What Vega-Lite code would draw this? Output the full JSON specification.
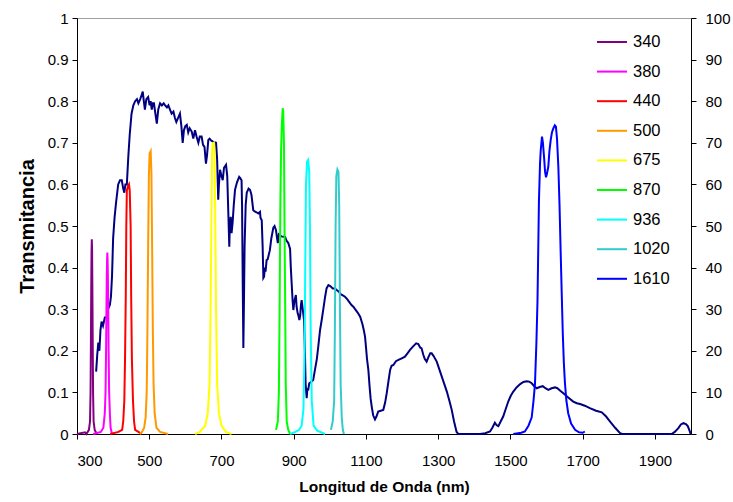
{
  "$schema": "https://vega.github.io/schema/vega-lite/v6.json",
  "width": 614,
  "height": 416,
  "autosize": "none",
  "padding": {"left": 77, "top": 18, "right": 42, "bottom": 68},
  "config": {
    "view": {"stroke": "#a0a0a0", "strokeWidth": 1},
    "axis": {
      "grid": false,
      "domainColor": "#000000",
      "tickColor": "#000000",
      "labelColor": "#000000",
      "titleColor": "#000000",
      "labelFont": "Liberation Sans",
      "titleFont": "Liberation Sans",
      "labelFontSize": 15,
      "titleFontSize": 15.5,
      "titleFontWeight": "bold",
      "tickSize": 5
    }
  },
  "datasets": {
    "spectrum": [
      {"nm":353,"pct":15},{"nm":356,"pct":19},{"nm":359,"pct":22},{"nm":362,"pct":20},{"nm":365,"pct":25},{"nm":368,"pct":27},{"nm":372,"pct":26},{"nm":377,"pct":28},{"nm":382,"pct":28},{"nm":386,"pct":30},{"nm":391,"pct":31},{"nm":394,"pct":33},{"nm":397,"pct":38},{"nm":400,"pct":47},{"nm":404,"pct":52},{"nm":408,"pct":55.5},{"nm":414,"pct":60},{"nm":419,"pct":61},{"nm":424,"pct":61},{"nm":428,"pct":59},{"nm":431,"pct":58},{"nm":434,"pct":60},{"nm":438,"pct":60},{"nm":442,"pct":66.6},{"nm":446,"pct":72},{"nm":451,"pct":77},{"nm":456,"pct":79},{"nm":461,"pct":80},{"nm":466,"pct":80.5},{"nm":470,"pct":79.5},{"nm":475,"pct":80.5},{"nm":479,"pct":81.5},{"nm":482,"pct":82.3},{"nm":485,"pct":80},{"nm":488,"pct":78},{"nm":492,"pct":80.5},{"nm":497,"pct":81},{"nm":501,"pct":79},{"nm":504,"pct":80},{"nm":507,"pct":78},{"nm":510,"pct":79.5},{"nm":513,"pct":79.5},{"nm":517,"pct":77},{"nm":521,"pct":74.6},{"nm":525,"pct":78},{"nm":530,"pct":79.5},{"nm":535,"pct":79},{"nm":540,"pct":79.5},{"nm":544,"pct":79},{"nm":549,"pct":78.5},{"nm":553,"pct":79},{"nm":557.5,"pct":78},{"nm":562,"pct":77},{"nm":567,"pct":77.5},{"nm":571,"pct":76},{"nm":575,"pct":75},{"nm":580,"pct":76},{"nm":585,"pct":77},{"nm":589,"pct":74},{"nm":592.6,"pct":70},{"nm":596,"pct":73},{"nm":600,"pct":74},{"nm":604,"pct":74.3},{"nm":608,"pct":72.5},{"nm":612,"pct":73.5},{"nm":617.6,"pct":72.7},{"nm":622,"pct":71},{"nm":626.7,"pct":73},{"nm":631,"pct":71.5},{"nm":636,"pct":70},{"nm":640,"pct":71.5},{"nm":645,"pct":71.5},{"nm":649,"pct":69.5},{"nm":653,"pct":69},{"nm":657,"pct":65},{"nm":660,"pct":67},{"nm":663.6,"pct":70.7},{"nm":667,"pct":71},{"nm":672,"pct":70.5},{"nm":677,"pct":70.3},{"nm":685,"pct":70},{"nm":688,"pct":66},{"nm":691,"pct":56.3},{"nm":693,"pct":60},{"nm":696,"pct":63.5},{"nm":700,"pct":62},{"nm":703.5,"pct":61},{"nm":707,"pct":64},{"nm":712.6,"pct":64.7},{"nm":716,"pct":62},{"nm":718,"pct":56},{"nm":721.7,"pct":45},{"nm":723,"pct":50},{"nm":725.6,"pct":52.2},{"nm":728,"pct":48.3},{"nm":731,"pct":51},{"nm":734,"pct":55},{"nm":737.5,"pct":58.7},{"nm":743,"pct":60.5},{"nm":749,"pct":61.8},{"nm":752,"pct":61.5},{"nm":755.6,"pct":61},{"nm":757,"pct":55},{"nm":759,"pct":35},{"nm":760.6,"pct":20.7},{"nm":762,"pct":30},{"nm":764,"pct":45},{"nm":767,"pct":55},{"nm":770,"pct":58},{"nm":775,"pct":59},{"nm":779,"pct":58.7},{"nm":783,"pct":57.5},{"nm":788,"pct":53.8},{"nm":792,"pct":53.5},{"nm":797,"pct":53.3},{"nm":802,"pct":53},{"nm":806.7,"pct":53.4},{"nm":808,"pct":52},{"nm":811.5,"pct":51.4},{"nm":814,"pct":45},{"nm":816,"pct":37.5},{"nm":818,"pct":37.8},{"nm":820,"pct":40},{"nm":822,"pct":39},{"nm":825,"pct":41.8},{"nm":828,"pct":42},{"nm":834,"pct":44.2},{"nm":838,"pct":47},{"nm":843.6,"pct":49.6},{"nm":847,"pct":50},{"nm":851,"pct":49},{"nm":854,"pct":47},{"nm":856,"pct":45.9},{"nm":859,"pct":48},{"nm":862,"pct":47.8},{"nm":866,"pct":47.5},{"nm":871,"pct":47.4},{"nm":876,"pct":47.4},{"nm":880,"pct":46.5},{"nm":885,"pct":45.9},{"nm":890,"pct":44.5},{"nm":892,"pct":40},{"nm":894.5,"pct":36},{"nm":897,"pct":32},{"nm":899,"pct":29.8},{"nm":902,"pct":32},{"nm":906,"pct":33.4},{"nm":908,"pct":30.6},{"nm":911,"pct":29},{"nm":913,"pct":28.5},{"nm":915.6,"pct":27.4},{"nm":918,"pct":28.5},{"nm":920,"pct":31},{"nm":922,"pct":32.2},{"nm":925,"pct":30},{"nm":928.6,"pct":27.4},{"nm":931,"pct":20},{"nm":933,"pct":12},{"nm":936,"pct":8.6},{"nm":938,"pct":11},{"nm":940,"pct":10.5},{"nm":943,"pct":12.2},{"nm":948,"pct":12.5},{"nm":954,"pct":13},{"nm":960,"pct":16},{"nm":964,"pct":18},{"nm":968,"pct":21},{"nm":973,"pct":25},{"nm":977.5,"pct":27.4},{"nm":982,"pct":30},{"nm":987,"pct":33},{"nm":991,"pct":35},{"nm":996,"pct":35.8},{"nm":1002,"pct":35.5},{"nm":1008,"pct":35},{"nm":1014,"pct":35},{"nm":1019,"pct":34.6},{"nm":1025,"pct":34.2},{"nm":1030,"pct":33.6},{"nm":1036,"pct":33.3},{"nm":1042,"pct":33},{"nm":1048,"pct":32.4},{"nm":1054,"pct":31.7},{"nm":1060,"pct":31},{"nm":1065,"pct":30.6},{"nm":1070,"pct":30},{"nm":1077,"pct":29.2},{"nm":1084,"pct":28.2},{"nm":1090,"pct":26.5},{"nm":1094,"pct":25},{"nm":1097.5,"pct":23.4},{"nm":1100,"pct":21},{"nm":1103,"pct":18},{"nm":1106.7,"pct":15.4},{"nm":1110,"pct":11.5},{"nm":1113,"pct":8.5},{"nm":1116,"pct":6.6},{"nm":1120,"pct":4.5},{"nm":1125,"pct":3.5},{"nm":1129,"pct":4.2},{"nm":1134,"pct":5.4},{"nm":1141,"pct":5.6},{"nm":1148,"pct":5.8},{"nm":1153,"pct":7.5},{"nm":1157.5,"pct":9.8},{"nm":1162,"pct":12.5},{"nm":1167,"pct":15.4},{"nm":1171,"pct":16.4},{"nm":1176,"pct":16.6},{"nm":1183,"pct":17.5},{"nm":1190,"pct":17.8},{"nm":1199,"pct":18.2},{"nm":1208,"pct":18.6},{"nm":1215,"pct":19.4},{"nm":1222,"pct":20.2},{"nm":1230,"pct":21},{"nm":1239,"pct":21.8},{"nm":1245,"pct":21.6},{"nm":1250,"pct":20.8},{"nm":1254,"pct":20.6},{"nm":1259,"pct":19},{"nm":1263,"pct":18},{"nm":1268,"pct":17.4},{"nm":1273,"pct":18.5},{"nm":1278,"pct":19.4},{"nm":1282,"pct":19.4},{"nm":1287,"pct":18.8},{"nm":1292,"pct":18},{"nm":1296,"pct":17.4},{"nm":1303,"pct":15.6},{"nm":1310,"pct":13.8},{"nm":1317,"pct":12},{"nm":1324,"pct":10.2},{"nm":1331,"pct":8},{"nm":1337.5,"pct":5.8},{"nm":1344,"pct":3},{"nm":1351,"pct":0.5},{"nm":1356,"pct":0},{"nm":1416,"pct":0},{"nm":1430,"pct":0.2},{"nm":1443.6,"pct":0.6},{"nm":1450,"pct":1.5},{"nm":1457,"pct":2.7},{"nm":1462,"pct":2.1},{"nm":1466.6,"pct":1.9},{"nm":1473,"pct":3},{"nm":1480,"pct":4.2},{"nm":1487,"pct":6},{"nm":1494,"pct":7.8},{"nm":1501,"pct":9.2},{"nm":1508,"pct":10.2},{"nm":1517,"pct":11.2},{"nm":1527,"pct":12},{"nm":1536,"pct":12.5},{"nm":1545,"pct":12.7},{"nm":1552,"pct":12.6},{"nm":1559,"pct":12.2},{"nm":1566,"pct":11.5},{"nm":1573,"pct":11},{"nm":1581,"pct":11.3},{"nm":1589.5,"pct":11.5},{"nm":1597,"pct":11},{"nm":1605,"pct":10.6},{"nm":1614,"pct":11},{"nm":1623.6,"pct":11.2},{"nm":1630,"pct":11},{"nm":1638,"pct":10.4},{"nm":1646.6,"pct":9.8},{"nm":1660,"pct":8.8},{"nm":1674,"pct":7.8},{"nm":1684,"pct":7.4},{"nm":1692.8,"pct":7.2},{"nm":1706,"pct":6.8},{"nm":1720,"pct":6.2},{"nm":1737,"pct":5.6},{"nm":1753,"pct":5.2},{"nm":1765,"pct":4.2},{"nm":1776,"pct":3},{"nm":1790,"pct":1.5},{"nm":1803.6,"pct":0.2},{"nm":1810,"pct":0},{"nm":1946.6,"pct":0},{"nm":1955,"pct":0.5},{"nm":1965,"pct":1.4},{"nm":1972,"pct":2.3},{"nm":1979,"pct":2.6},{"nm":1986,"pct":2.4},{"nm":1991,"pct":1.9},{"nm":1996,"pct":0.8},{"nm":1999,"pct":0}
    ],
    "filters": [
      {"nm":300,"T":0,"f":"340"},{"nm":322,"T":0.004,"f":"340"},{"nm":326,"T":0,"f":"340"},{"nm":333,"T":0.01,"f":"340"},{"nm":336,"T":0.03,"f":"340"},{"nm":337.5,"T":0.1,"f":"340"},{"nm":338.5,"T":0.22,"f":"340"},{"nm":339.5,"T":0.36,"f":"340"},{"nm":340.3,"T":0.44,"f":"340"},{"nm":341,"T":0.468,"f":"340"},{"nm":341.8,"T":0.44,"f":"340"},{"nm":342.5,"T":0.36,"f":"340"},{"nm":343.5,"T":0.22,"f":"340"},{"nm":344.5,"T":0.1,"f":"340"},{"nm":346,"T":0.03,"f":"340"},{"nm":349,"T":0.01,"f":"340"},{"nm":355,"T":0,"f":"340"},
      {"nm":345,"T":0,"f":"380"},{"nm":366,"T":0.005,"f":"380"},{"nm":373,"T":0.015,"f":"380"},{"nm":377,"T":0.05,"f":"380"},{"nm":379,"T":0.1,"f":"380"},{"nm":380.5,"T":0.2,"f":"380"},{"nm":381.5,"T":0.3,"f":"380"},{"nm":382.5,"T":0.38,"f":"380"},{"nm":383.3,"T":0.42,"f":"380"},{"nm":384,"T":0.436,"f":"380"},{"nm":384.7,"T":0.42,"f":"380"},{"nm":385.5,"T":0.38,"f":"380"},{"nm":386.5,"T":0.3,"f":"380"},{"nm":387.5,"T":0.2,"f":"380"},{"nm":389,"T":0.1,"f":"380"},{"nm":391,"T":0.05,"f":"380"},{"nm":393,"T":0.015,"f":"380"},{"nm":397,"T":0,"f":"380"},
      {"nm":392,"T":0,"f":"440"},{"nm":415,"T":0.005,"f":"440"},{"nm":425,"T":0.01,"f":"440"},{"nm":428,"T":0.03,"f":"440"},{"nm":431,"T":0.08,"f":"440"},{"nm":433,"T":0.18,"f":"440"},{"nm":435,"T":0.33,"f":"440"},{"nm":436.5,"T":0.5,"f":"440"},{"nm":438,"T":0.585,"f":"440"},{"nm":441,"T":0.595,"f":"440"},{"nm":444,"T":0.6,"f":"440"},{"nm":446,"T":0.585,"f":"440"},{"nm":448.5,"T":0.5,"f":"440"},{"nm":450,"T":0.33,"f":"440"},{"nm":452,"T":0.18,"f":"440"},{"nm":455,"T":0.08,"f":"440"},{"nm":458,"T":0.03,"f":"440"},{"nm":461,"T":0.01,"f":"440"},{"nm":470,"T":0.005,"f":"440"},{"nm":479,"T":0,"f":"440"},
      {"nm":474,"T":0,"f":"500"},{"nm":480,"T":0.005,"f":"500"},{"nm":486,"T":0.015,"f":"500"},{"nm":490,"T":0.04,"f":"500"},{"nm":493,"T":0.1,"f":"500"},{"nm":495,"T":0.25,"f":"500"},{"nm":497,"T":0.45,"f":"500"},{"nm":499,"T":0.62,"f":"500"},{"nm":501,"T":0.675,"f":"500"},{"nm":504,"T":0.68,"f":"500"},{"nm":506,"T":0.63,"f":"500"},{"nm":508,"T":0.45,"f":"500"},{"nm":510,"T":0.25,"f":"500"},{"nm":512,"T":0.12,"f":"500"},{"nm":515,"T":0.05,"f":"500"},{"nm":520,"T":0.015,"f":"500"},{"nm":530,"T":0.005,"f":"500"},{"nm":552,"T":0,"f":"500"},
      {"nm":627,"T":0,"f":"675"},{"nm":640,"T":0.005,"f":"675"},{"nm":655,"T":0.02,"f":"675"},{"nm":662,"T":0.05,"f":"675"},{"nm":667,"T":0.12,"f":"675"},{"nm":670,"T":0.3,"f":"675"},{"nm":672,"T":0.5,"f":"675"},{"nm":674,"T":0.68,"f":"675"},{"nm":676,"T":0.698,"f":"675"},{"nm":679,"T":0.7,"f":"675"},{"nm":681,"T":0.67,"f":"675"},{"nm":683,"T":0.5,"f":"675"},{"nm":685,"T":0.3,"f":"675"},{"nm":688,"T":0.12,"f":"675"},{"nm":693,"T":0.05,"f":"675"},{"nm":700,"T":0.02,"f":"675"},{"nm":712,"T":0.005,"f":"675"},{"nm":728,"T":0,"f":"675"},
      {"nm":851,"T":0.01,"f":"870"},{"nm":856,"T":0.03,"f":"870"},{"nm":859,"T":0.1,"f":"870"},{"nm":861,"T":0.3,"f":"870"},{"nm":863,"T":0.55,"f":"870"},{"nm":865,"T":0.68,"f":"870"},{"nm":867,"T":0.74,"f":"870"},{"nm":869.5,"T":0.783,"f":"870"},{"nm":871,"T":0.775,"f":"870"},{"nm":873,"T":0.7,"f":"870"},{"nm":875,"T":0.45,"f":"870"},{"nm":876.5,"T":0.3,"f":"870"},{"nm":878,"T":0.12,"f":"870"},{"nm":880.7,"T":0.03,"f":"870"},{"nm":885,"T":0.01,"f":"870"},{"nm":890,"T":0,"f":"870"},
      {"nm":890,"T":0,"f":"936"},{"nm":905,"T":0.005,"f":"936"},{"nm":915,"T":0.01,"f":"936"},{"nm":922,"T":0.02,"f":"936"},{"nm":927,"T":0.06,"f":"936"},{"nm":930,"T":0.2,"f":"936"},{"nm":932,"T":0.4,"f":"936"},{"nm":934,"T":0.6,"f":"936"},{"nm":937,"T":0.655,"f":"936"},{"nm":940,"T":0.659,"f":"936"},{"nm":943,"T":0.63,"f":"936"},{"nm":945,"T":0.5,"f":"936"},{"nm":947,"T":0.25,"f":"936"},{"nm":950,"T":0.08,"f":"936"},{"nm":955,"T":0.02,"f":"936"},{"nm":965,"T":0.008,"f":"936"},{"nm":987,"T":0,"f":"936"},
      {"nm":1003,"T":0.01,"f":"1020"},{"nm":1008,"T":0.03,"f":"1020"},{"nm":1012,"T":0.08,"f":"1020"},{"nm":1014,"T":0.25,"f":"1020"},{"nm":1016,"T":0.5,"f":"1020"},{"nm":1018,"T":0.62,"f":"1020"},{"nm":1021,"T":0.636,"f":"1020"},{"nm":1024,"T":0.63,"f":"1020"},{"nm":1026,"T":0.55,"f":"1020"},{"nm":1028,"T":0.3,"f":"1020"},{"nm":1030,"T":0.12,"f":"1020"},{"nm":1033,"T":0.04,"f":"1020"},{"nm":1036,"T":0.01,"f":"1020"},{"nm":1039,"T":0,"f":"1020"},
      {"nm":1508,"T":0,"f":"1610"},{"nm":1530,"T":0.003,"f":"1610"},{"nm":1540,"T":0.006,"f":"1610"},{"nm":1550,"T":0.02,"f":"1610"},{"nm":1559,"T":0.04,"f":"1610"},{"nm":1564,"T":0.08,"f":"1610"},{"nm":1568,"T":0.12,"f":"1610"},{"nm":1572,"T":0.22,"f":"1610"},{"nm":1575,"T":0.32,"f":"1610"},{"nm":1579,"T":0.56,"f":"1610"},{"nm":1582,"T":0.65,"f":"1610"},{"nm":1584,"T":0.683,"f":"1610"},{"nm":1587.5,"T":0.715,"f":"1610"},{"nm":1590,"T":0.7,"f":"1610"},{"nm":1593,"T":0.667,"f":"1610"},{"nm":1596,"T":0.63,"f":"1610"},{"nm":1598.6,"T":0.617,"f":"1610"},{"nm":1601,"T":0.625,"f":"1610"},{"nm":1605,"T":0.643,"f":"1610"},{"nm":1608,"T":0.68,"f":"1610"},{"nm":1611.6,"T":0.707,"f":"1610"},{"nm":1615,"T":0.725,"f":"1610"},{"nm":1619,"T":0.735,"f":"1610"},{"nm":1623,"T":0.742,"f":"1610"},{"nm":1626,"T":0.739,"f":"1610"},{"nm":1629,"T":0.71,"f":"1610"},{"nm":1632.7,"T":0.643,"f":"1610"},{"nm":1636,"T":0.55,"f":"1610"},{"nm":1639,"T":0.442,"f":"1610"},{"nm":1642,"T":0.34,"f":"1610"},{"nm":1645,"T":0.242,"f":"1610"},{"nm":1648,"T":0.17,"f":"1610"},{"nm":1651,"T":0.122,"f":"1610"},{"nm":1655,"T":0.08,"f":"1610"},{"nm":1660,"T":0.05,"f":"1610"},{"nm":1668,"T":0.025,"f":"1610"},{"nm":1679,"T":0.01,"f":"1610"},{"nm":1690,"T":0.004,"f":"1610"},{"nm":1700,"T":0.003,"f":"1610"},{"nm":1706,"T":0.006,"f":"1610"}
    ]
  },
  "layer": [
    {
      "data": {"name": "spectrum"},
      "mark": {"type": "line", "color": "#000080", "strokeWidth": 2},
      "encoding": {
        "x": {"field": "nm", "type": "quantitative", "scale": {"domain": [300, 2000], "nice": false},
              "axis": {"values": [300,500,700,900,1100,1300,1500,1700,1900], "format": "d", "title": "Longitud de Onda (nm)", "labelPadding": 14, "titlePadding": 11}},
        "y": {"field": "pct", "type": "quantitative", "scale": {"domain": [0, 100], "nice": false},
              "axis": {"orient": "right", "values": [0,10,20,30,40,50,60,70,80,90,100], "title": null, "labelPadding": 9}}
      }
    },
    {
      "data": {"name": "filters"},
      "mark": {"type": "line", "strokeWidth": 2},
      "encoding": {
        "x": {"field": "nm", "type": "quantitative", "scale": {"domain": [300, 2000], "nice": false},
              "axis": {"values": [300,500,700,900,1100,1300,1500,1700,1900], "format": "d", "title": "Longitud de Onda (nm)", "labelPadding": 14, "titlePadding": 11}},
        "y": {"field": "T", "type": "quantitative", "scale": {"domain": [0, 1], "nice": false},
              "axis": {"orient": "left", "values": [0,0.1,0.2,0.3,0.4,0.5,0.6,0.7,0.8,0.9,1], "format": "~g", "title": "Transmitancia", "titleFontSize": 20, "labelPadding": 4, "titlePadding": 10}},
        "color": {"field": "f", "type": "nominal",
          "scale": {"domain": ["340","380","440","500","675","870","936","1020","1610"],
                    "range": ["#800080","#FF00FF","#FF0000","#FF9900","#FFFF00","#00FF00","#00FFFF","#33CCCC","#0000FF"]},
          "legend": {"title": null, "orient": "none", "legendX": 519, "legendY": 8, "symbolType": "stroke", "symbolSize": 900, "symbolStrokeWidth": 2, "labelFontSize": 16.5, "labelFont": "Liberation Sans", "labelColor": "#000000", "rowPadding": 4.6, "labelOffset": 5, "padding": 0}}
      }
    }
  ],
  "resolve": {"scale": {"y": "independent"}}
}
